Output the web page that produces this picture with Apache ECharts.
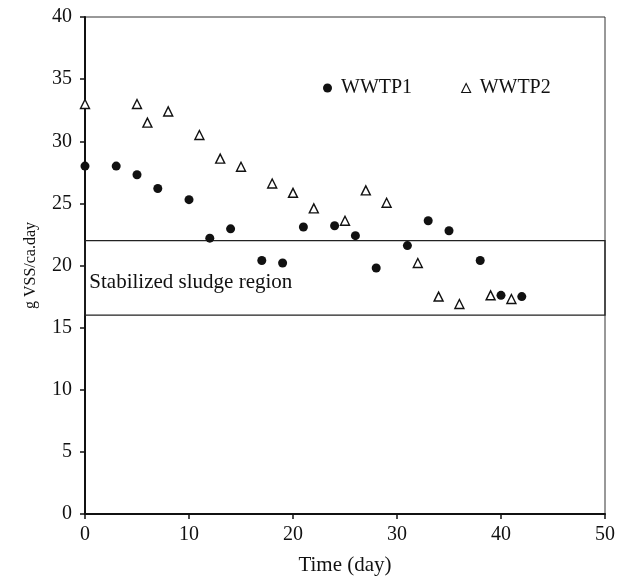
<!DOCTYPE html>
<html>
<head>
<meta charset="utf-8">
<script src="https://cdn.jsdelivr.net/npm/echarts@6/dist/echarts.min.js"></script>
<style>html,body{margin:0;padding:0;background:#fff;}#c{width:628px;height:581px;}</style>
</head>
<body>
<div id="c"></div>
<script>
var wwtp1Days = [0, 3, 5, 7, 10, 12, 14, 17, 19, 21, 24, 26, 28, 31, 33, 35, 38, 40, 42];
var wwtp1Vals = [28.0, 28.0, 27.3, 26.2, 25.3, 22.2, 22.95, 20.4, 20.2, 23.1, 23.2, 22.4, 19.8, 21.6, 23.6, 22.8, 20.4, 17.6, 17.5];
var wwtp2Days = [0, 5, 6, 8, 11, 13, 15, 18, 20, 22, 25, 27, 29, 32, 34, 36, 39, 41];
var wwtp2Vals = [33.0, 33.0, 31.5, 32.4, 30.5, 28.6, 27.95, 26.6, 25.85, 24.6, 23.6, 26.05, 25.05, 20.2, 17.5, 16.9, 17.6, 17.3];
var regionLow = 16, regionHigh = 22;
var regionLabel = 'Stabilized sludge region';
var xTicks = [0, 10, 20, 30, 40, 50];
var yTicks = [0, 5, 10, 15, 20, 25, 30, 35, 40];

function pairs(xs, ys) { return xs.map(function (x, i) { return [x, ys[i]]; }); }

var font = 'Liberation Serif';
var ink = '#111';
var chart = echarts.init(document.getElementById('c'), null, {renderer: 'canvas'});
chart.setOption({
  animation: false,
  backgroundColor: '#fff',
  textStyle: {fontFamily: font, color: ink},
  grid: {left: 85, right: 23, top: 17, bottom: 66, show: true, borderColor: '#333', borderWidth: 1},
  legend: {
    left: 318, top: 73, itemWidth: 9, itemHeight: 9, itemGap: 49,
    textStyle: {fontFamily: font, fontSize: 20, color: ink, padding: [0, 0, 0, 4]},
    data: [
      {name: 'WWTP1', icon: 'circle'},
      {name: 'WWTP2', icon: 'triangle', itemStyle: {color: '#fff', borderColor: ink, borderWidth: 1.1}}
    ]
  },
  xAxis: {
    type: 'value', min: xTicks[0], max: xTicks[xTicks.length - 1], interval: 10,
    name: 'Time (day)', nameLocation: 'middle', nameGap: 41,
    nameTextStyle: {fontFamily: font, fontSize: 21, color: ink},
    axisLine: {show: true, onZero: false, lineStyle: {color: ink, width: 2}},
    axisTick: {show: true, length: 5, lineStyle: {color: ink, width: 1.5}},
    axisLabel: {fontFamily: font, fontSize: 20, color: ink, margin: 11},
    splitLine: {show: false}
  },
  yAxis: {
    type: 'value', min: yTicks[0], max: yTicks[yTicks.length - 1], interval: 5,
    name: 'g VSS/ca.day', nameLocation: 'middle', nameGap: 46, nameRotate: 90,
    nameTextStyle: {fontFamily: font, fontSize: 16, color: ink},
    axisLine: {show: true, onZero: false, lineStyle: {color: ink, width: 2}},
    axisTick: {show: true, length: 5, lineStyle: {color: ink, width: 1.5}},
    axisLabel: {fontFamily: font, fontSize: 20, color: ink, margin: 13},
    splitLine: {show: false}
  },
  series: [
    {
      name: 'WWTP1', type: 'scatter', symbol: 'circle', symbolSize: 9,
      itemStyle: {color: ink, opacity: 1},
      data: pairs(wwtp1Days, wwtp1Vals),
      markArea: {
        silent: true,
        itemStyle: {color: 'rgba(0,0,0,0)', borderColor: '#222', borderWidth: 1.3},
        label: {show: true, position: 'insideLeft', distance: 5, offset: [0, 5], fontFamily: font, fontSize: 21, color: ink},
        data: [[{name: regionLabel, xAxis: xTicks[0], yAxis: regionHigh}, {xAxis: xTicks[xTicks.length - 1], yAxis: regionLow}]]
      },
      z: 3
    },
    {
      name: 'WWTP2', type: 'scatter', symbol: 'triangle', symbolSize: 9,
      itemStyle: {color: '#fff', borderColor: ink, borderWidth: 1.4, opacity: 1},
      data: pairs(wwtp2Days, wwtp2Vals),
      z: 4
    }
  ]
});
</script>
</body>
</html>
